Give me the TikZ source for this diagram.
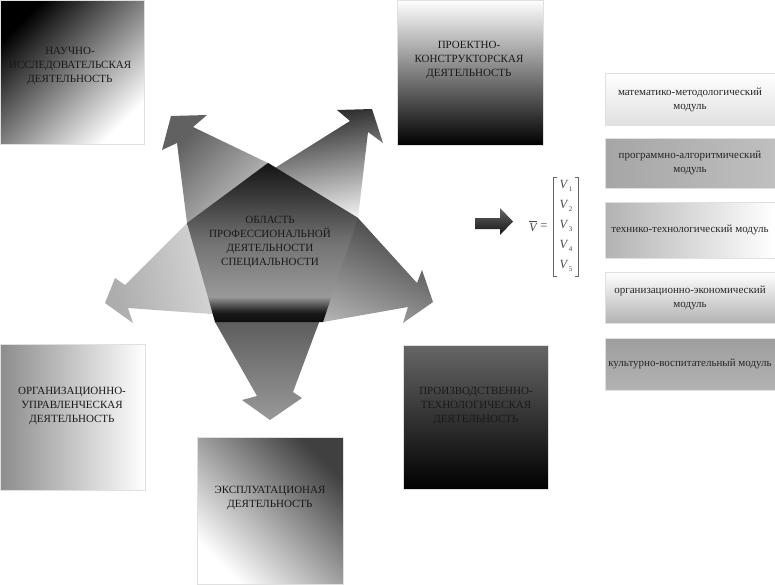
\documentclass[tikz,border=0pt]{standalone}
\usepackage{amsmath}
\usepackage{fontspec}
\setmainfont{Liberation Serif}
\pgfdeclareverticalshading{pentshade}{100bp}{color(0bp)=(black!95); color(25bp)=(black!95); color(28bp)=(black!90); color(33bp)=(black!40); color(50bp)=(black!55); color(65bp)=(black!78); color(75bp)=(black!92); color(100bp)=(black!92)}
\newcommand{\vsub}[1]{\textit{V}\kern0.3pt\raisebox{-2.5pt}{\fontsize{7}{7}\selectfont #1}}
\tikzset{
  bigbox/.style={rectangle, draw=black!12, line width=0.8pt, inner sep=0pt},
  boxtext/.style={align=center, font=\fontsize{11}{14}\selectfont, text=black!90, inner sep=0pt},
  modbox/.style={rectangle, draw=black!12, line width=0.8pt, inner sep=0pt, minimum width=170pt},
  modtext/.style={align=center, font=\fontsize{11}{14.5}\selectfont, text=black!85, inner sep=0pt},
  vecel/.style={font=\fontsize{12.5}{12.5}\selectfont, text=black!70, inner sep=0pt},
  brk/.style={draw=black!60, line width=0.7pt},
}
\begin{document}
\begin{tikzpicture}[x=1pt,y=-1pt]
\useasboundingbox (0,0) rectangle (775,584);
\fill[white] (0,0) rectangle (775,584);

% outer boxes
\node[bigbox, minimum width=144pt, minimum height=144pt, top color=black, middle color=black!28, bottom color=white, shading angle=45] (b1) at (72,72) {};
\node[boxtext] (t1) at (70,66) {НАУЧНО-\\ИССЛЕДОВАТЕЛЬСКАЯ\\ДЕЯТЕЛЬНОСТЬ};

\node[bigbox, minimum width=146pt, minimum height=145pt, top color=white, bottom color=black] (b2) at (470,72.5) {};
\node[boxtext] (t2) at (469,60) {ПРОЕКТНО-\\КОНСТРУКТОРСКАЯ\\ДЕЯТЕЛЬНОСТЬ};

\node[bigbox, minimum width=145pt, minimum height=146pt, left color=black!45, right color=white] (b3) at (72.5,417) {};
\node[boxtext] (t3) at (72,406) {ОРГАНИЗАЦИОННО-\\УПРАВЛЕНЧЕСКАЯ\\ДЕЯТЕЛЬНОСТЬ};

\node[bigbox, minimum width=146pt, minimum height=147pt, top color=black!75, bottom color=white, shading angle=-45] (b4) at (270,510.5) {};
\node[boxtext] (t4) at (270,498) {ЭКСПЛУАТАЦИОНАЯ\\ДЕЯТЕЛЬНОСТЬ};

\node[bigbox, minimum width=145pt, minimum height=144pt, top color=black!60, bottom color=black] (b5) at (475.5,417) {};
\node[boxtext] (t5) at (476,406) {ПРОИЗВОДСТВЕННО-\\ТЕХНОЛОГИЧЕСКАЯ\\ДЕЯТЕЛЬНОСТЬ};

% pentagon vertices
\coordinate (T) at (268,163);
\coordinate (R) at (358,218);
\coordinate (BR) at (323,322);
\coordinate (BL) at (215,322);
\coordinate (L) at (187,223);

% five arrows
\path[top color=black!62, bottom color=white, shading angle=45]
  (BL) -- (L) -- (177,143) -- (162,150) -- (171,116) -- (207,115) -- (193,127) -- (T) -- cycle;
\path[top color=black!95, bottom color=black!5, shading angle=10]
  (L) -- (350,121) -- (337,110) -- (372,109) -- (383,143) -- (368,132) -- (R) -- cycle;
\path[top color=black!90, bottom color=black!30, shading angle=-23]
  (T) -- (R) -- (417,283) -- (422,270) -- (433,302) -- (403,323) -- (408,307) -- (BR) -- cycle;
\path[top color=black!88, bottom color=black!40]
  (R) -- (293,392) -- (302,398) -- (270,420) -- (242,400) -- (257,396) -- (BL) -- cycle;
\path[top color=black!32, middle color=white, bottom color=white, shading angle=100]
  (L) -- (125,285) -- (115,278) -- (105,303) -- (133,323) -- (128,308) -- (BR) -- cycle;

% central pentagon
\path[shading=pentshade] (T) -- (R) -- (BR) -- (BL) -- (L) -- cycle;
\node[boxtext] (core) at (270,242) {ОБЛАСТЬ\\ПРОФЕССИОНАЛЬНОЙ\\ДЕЯТЕЛЬНОСТИ\\СПЕЦИАЛЬНОСТИ};

% block arrow
\path[top color=black!60, bottom color=black!92]
  (475,218) -- (500,218) -- (500,208) -- (513,221.5) -- (500,235) -- (500,229) -- (475,229) -- cycle;

% vector
\node[vecel] (vbar) at (533,226) {$\overline{\text{\itshape V}}$};
\node[vecel] (eq) at (544,227) {=};
\node[vecel] (v1) at (566,186) {\vsub{1}};
\node[vecel] (v2) at (566,206) {\vsub{2}};
\node[vecel] (v3) at (566,226) {\vsub{3}};
\node[vecel] (v4) at (566,246) {\vsub{4}};
\node[vecel] (v5) at (566,266) {\vsub{5}};
\draw[brk] (556.5,177) -- (553,177) -- (553,276) -- (556.5,276);
\draw[brk] (574.5,177) -- (578,177) -- (578,276) -- (574.5,276);

% modules
\node[modbox, minimum height=52pt, top color=white, bottom color=black!12] (m1) at (690,99) {};
\node[modtext] (mt1) at (690,100) {математико-методологический\\модуль};
\node[modbox, minimum height=50pt, left color=black!35, middle color=black!4, right color=black!25] (m2) at (690,163) {};
\node[modtext] (mt2) at (690,163) {программно-алгоритмический\\модуль};
\node[modbox, minimum height=56pt, left color=black!30, right color=white] (m3) at (690,230) {};
\node[modtext] (mt3) at (690,230) {технико-технологический модуль};
\node[modbox, minimum height=51pt, top color=white, bottom color=black!30] (m4) at (690,297.5) {};
\node[modtext] (mt4) at (690,298) {организационно-экономический\\модуль};
\node[modbox, minimum height=52pt, top color=black!38, middle color=black!8, bottom color=black!30] (m5) at (690,364) {};
\node[modtext] (mt5) at (690,364) {культурно-воспитательный модуль};
\end{tikzpicture}
\end{document}
